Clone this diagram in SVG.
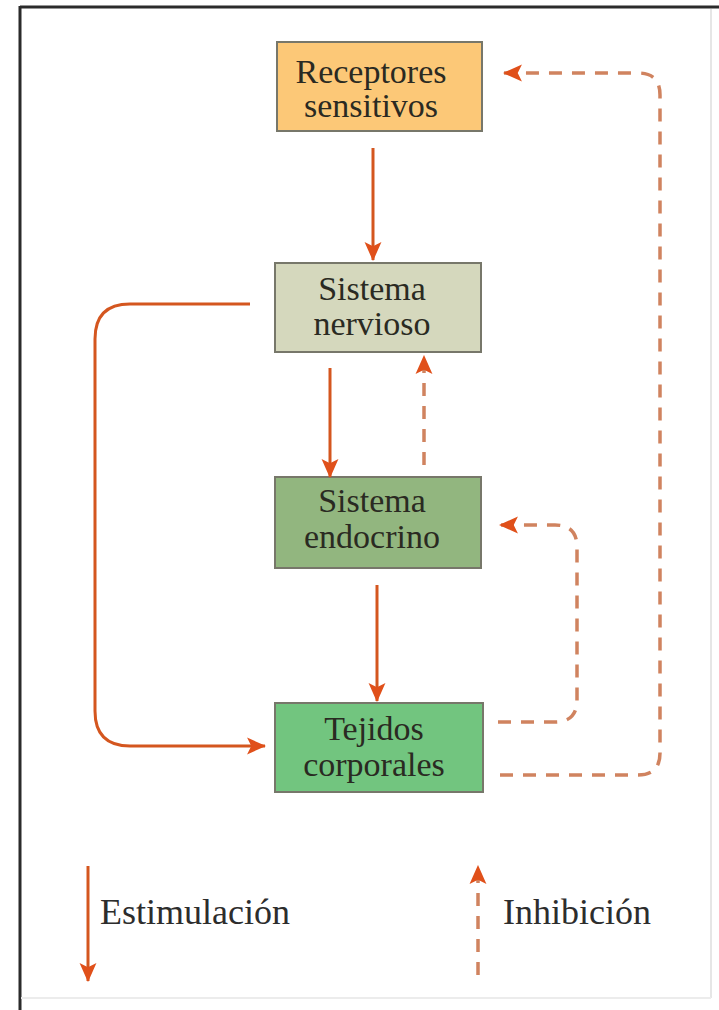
<svg xmlns="http://www.w3.org/2000/svg" width="719" height="1010" viewBox="0 0 719 1010">
<defs>
<style>
.box{stroke:#77776a;stroke-width:2}
.t{font-family:"Liberation Serif","Times New Roman",serif;font-size:34px;text-anchor:middle;fill:#2a2a22}
.lg{font-family:"Liberation Serif","Times New Roman",serif;font-size:36px;fill:#2d2d2d}
.solid{fill:none;stroke:#d4561f;stroke-width:3}
.dash{fill:none;stroke:#d0835f;stroke-width:3.5;stroke-dasharray:13 10}
</style>
<marker id="ah" markerUnits="userSpaceOnUse" markerWidth="19" markerHeight="19" viewBox="0 0 18 18" refX="17" refY="9" orient="auto">
<path d="M0,1 L18,9 L0,17 L4,9 z" fill="#e0501a"/>
</marker>
</defs>
<rect x="0" y="0" width="719" height="1010" fill="#ffffff"/>
<line x1="20" y1="7" x2="719" y2="7" stroke="#2b2b2b" stroke-width="3"/>
<line x1="20" y1="6" x2="20" y2="1010" stroke="#2b2b2b" stroke-width="3"/>
<line x1="711" y1="9" x2="711" y2="998" stroke="#e6e6e6" stroke-width="2"/>
<line x1="21" y1="998" x2="711" y2="998" stroke="#ececec" stroke-width="2"/>

<g id="receptores">
<rect class="box" x="277" y="42" width="205" height="89" fill="#fcc877"/>
<text class="t" x="371" y="83" fill="#3a2c14">Receptores</text>
<text class="t" x="371" y="117" fill="#3a2c14">sensitivos</text>
</g>
<g id="nervioso">
<rect class="box" x="275" y="263" width="206" height="89" fill="#d5d8bd"/>
<text class="t" x="372" y="300">Sistema</text>
<text class="t" x="372" y="335">nervioso</text>
</g>
<g id="endocrino">
<rect class="box" x="275" y="477" width="206" height="91" fill="#92b67f"/>
<text class="t" x="372" y="512" fill="#1f2e1a">Sistema</text>
<text class="t" x="372" y="548" fill="#1f2e1a">endocrino</text>
</g>
<g id="tejidos">
<rect class="box" x="275" y="703" width="208" height="89" fill="#72c57f"/>
<text class="t" x="374" y="740" fill="#17381c">Tejidos</text>
<text class="t" x="374" y="776" fill="#17381c">corporales</text>
</g>

<g id="connectors">
<path class="solid" d="M373,148 V260" marker-end="url(#ah)"/>
<path class="solid" d="M330,368 V477" marker-end="url(#ah)"/>
<path class="solid" d="M377,585 V701" marker-end="url(#ah)"/>
<path class="solid" d="M250,304 H130 Q95,304 95,339 V711 Q95,746 130,746 H265" marker-end="url(#ah)"/>
<path class="dash" d="M424,465 V356" marker-end="url(#ah)"/>
<path class="dash" d="M498,722 H555 Q577,722 577,700 V547 Q577,525 555,525 H500" marker-end="url(#ah)"/>
<path class="dash" d="M500,775 H638 Q660,775 660,753 V95 Q660,73 638,73 H504" marker-end="url(#ah)"/>
</g>

<g id="legend">
<path class="solid" d="M88,866 V981" marker-end="url(#ah)"/>
<text class="lg" x="100" y="924">Estimulación</text>
<path class="dash" d="M478,975 V866" marker-end="url(#ah)"/>
<text class="lg" x="503" y="924">Inhibición</text>
</g>
</svg>
